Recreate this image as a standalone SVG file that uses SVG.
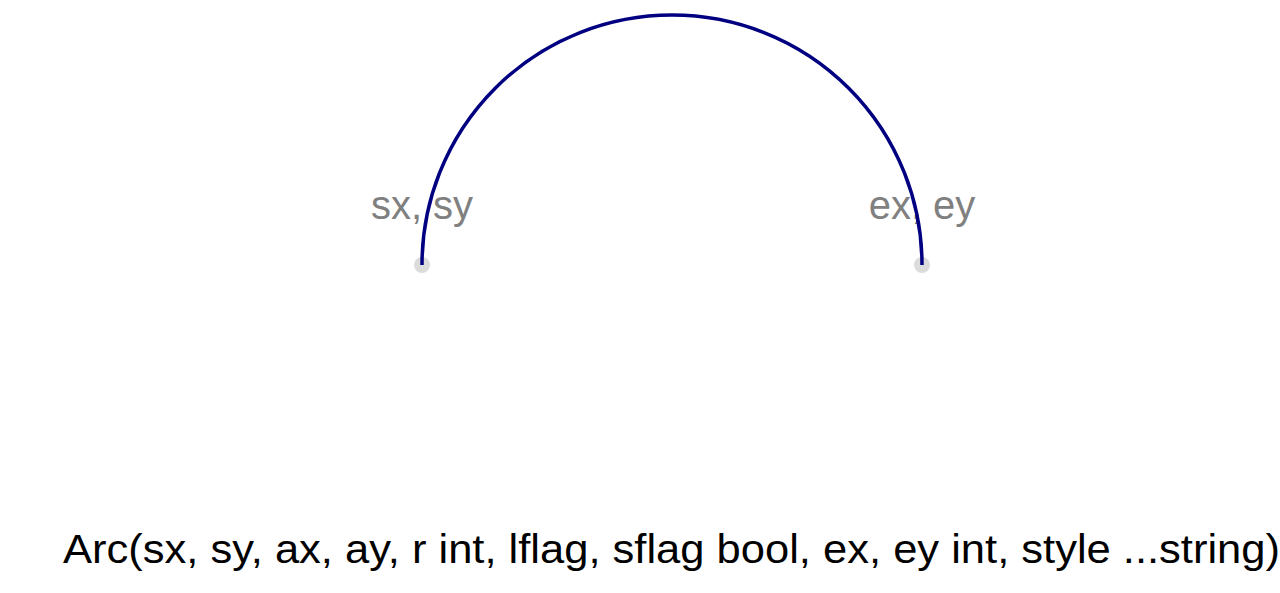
<svg xmlns="http://www.w3.org/2000/svg" width="1280" height="593" viewBox="0 0 1280 593">
<style>
.pt{fill:#dcdcdc}
.lbl{font-family:"Liberation Sans",Arial,sans-serif;font-size:40px;fill:#808080;text-anchor:middle}
.cap{font-family:"Liberation Sans",Arial,sans-serif;font-size:40px;fill:#000}
</style>
<rect width="1280" height="593" fill="#fff"/>
<g id="start"><circle class="pt" cx="422" cy="265" r="8"/><text class="lbl" x="422" y="219">sx, sy</text></g>
<g id="end"><circle class="pt" cx="922" cy="265" r="8"/><text class="lbl" x="922" y="219">ex, ey</text></g>
<g id="connectors"><path d="M422 265 A250 250 0 0 1 922 265" fill="none" stroke="#000080" stroke-width="3.5"/></g>
<g id="caption"><text class="cap" x="63" y="563" textLength="1217" lengthAdjust="spacingAndGlyphs">Arc(sx, sy, ax, ay, r int, lflag, sflag bool, ex, ey int, style ...string)</text></g>
</svg>
